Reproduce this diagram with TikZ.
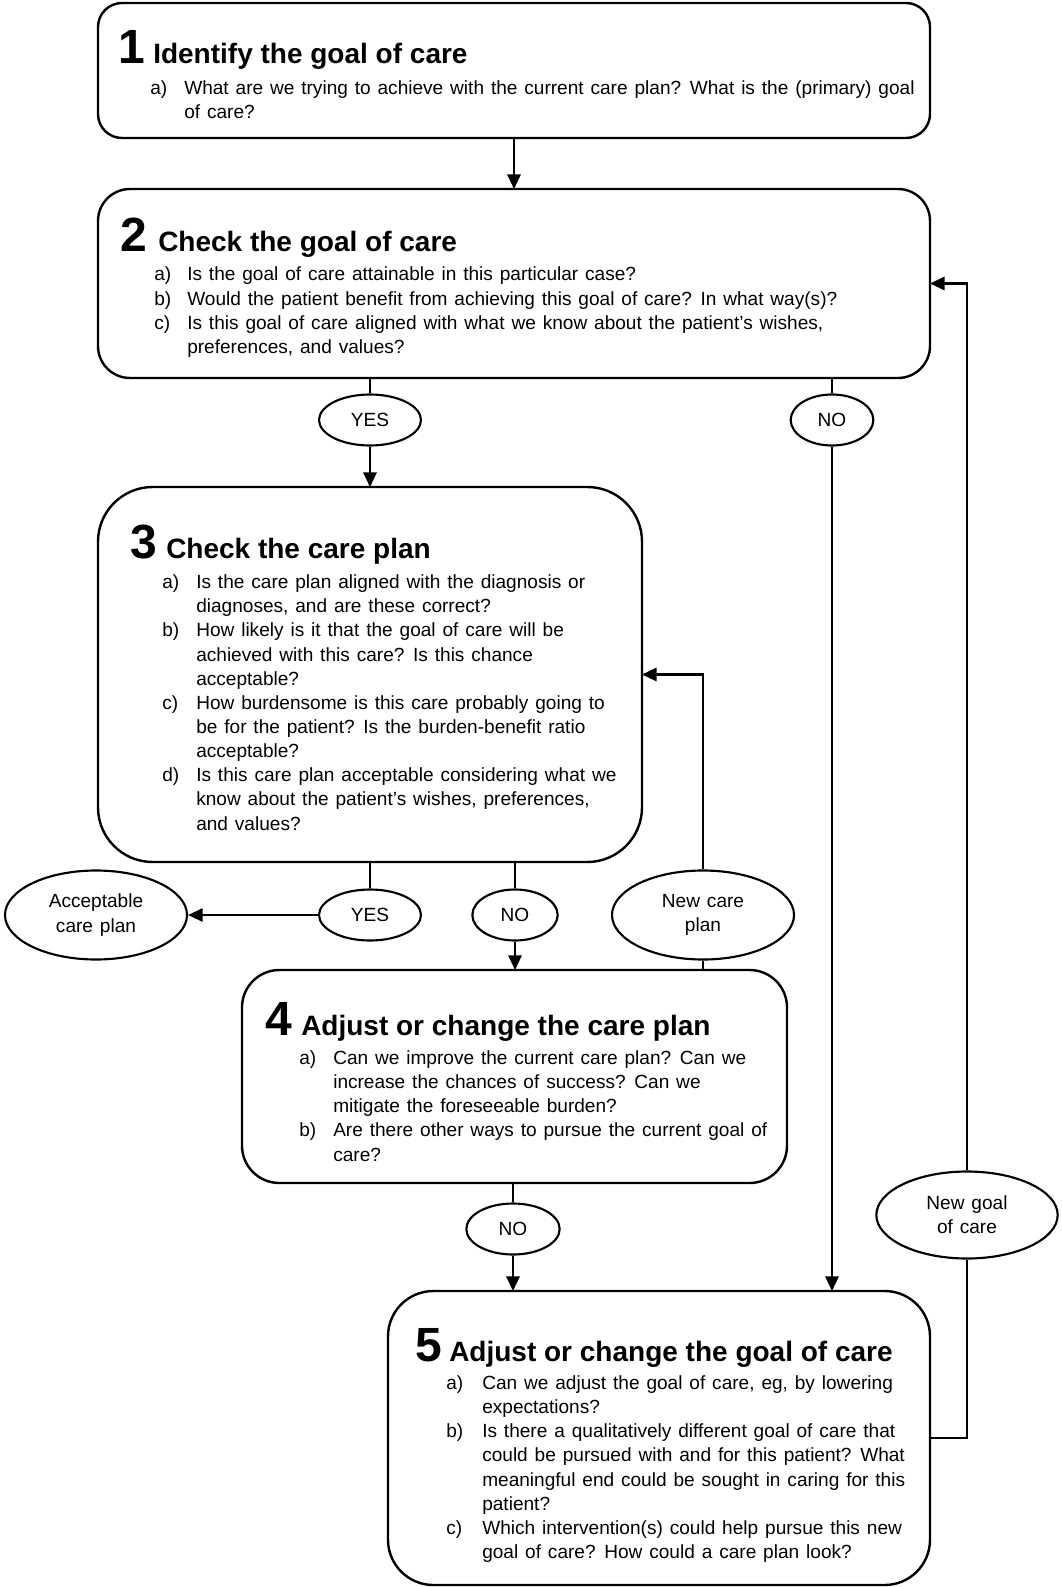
\documentclass[tikz,border=0pt]{standalone}
\usepackage{fontspec}
\setmainfont{Liberation Sans}[WordSpace=1.3]
\newfontfamily\titlefam{Liberation Sans}
\usepackage{array}
\usetikzlibrary{arrows.meta,shapes.geometric}
\newcommand{\bodysize}{\fontsize{14.3pt}{18.1pt}\selectfont}
\newcommand{\titlesize}{\titlefam\fontsize{21pt}{25pt}\selectfont\bfseries}
\newcommand{\numsize}{\titlefam\fontsize{36pt}{40pt}\selectfont\bfseries}
\newcommand{\itemtab}[2]{\begin{tabular}[t]{@{}p{#1}@{}l@{}}#2\end{tabular}}
\begin{document}
\begin{tikzpicture}[x=0.75pt,y=-0.75pt,
  stepbox/.style={draw, line width=1.8pt, inner sep=0pt, outer sep=0pt},
  oval/.style={draw, ellipse, line width=1.6pt, inner sep=0pt, align=center, font=\bodysize},
  conn/.style={line width=1.6pt},
  arr/.style={conn, -{Triangle[length=11pt,width=10pt]}},
  num/.style={anchor=base west, inner sep=0pt, font=\numsize},
  ttl/.style={anchor=base west, inner sep=0pt, font=\titlesize},
  items/.style={anchor=base west, inner sep=0pt, font=\bodysize},
]
\fill[white] (0,0) rectangle (1061,1587);
\useasboundingbox (0,0) rectangle (1061,1587);

% boxes
\node[stepbox, rounded corners=18pt, minimum width=624pt, minimum height=101.25pt] (b1) at (514,70.5) {};
\node[stepbox, rounded corners=24pt, minimum width=624pt, minimum height=141.75pt] (b2) at (514,283.5) {};
\node[stepbox, rounded corners=41pt, minimum width=408pt, minimum height=281.25pt] (b3) at (370,674.5) {};
\node[stepbox, rounded corners=28pt, minimum width=408.75pt, minimum height=159.75pt] (b4) at (514.5,1076.5) {};
\node[stepbox, rounded corners=34pt, minimum width=406.5pt, minimum height=220.5pt] (b5) at (659,1438) {};

% ovals
\node[oval, minimum width=76.5pt, minimum height=38.25pt] (y2) at (370,420) {YES};
\node[oval, minimum width=62pt, minimum height=38.25pt] (n2) at (832,420) {NO};
\node[oval, minimum width=76.5pt, minimum height=38.25pt] (y3) at (370,915) {YES};
\node[oval, minimum width=64pt, minimum height=38.25pt] (n3) at (515,915) {NO};
\node[oval, minimum width=136.5pt, minimum height=66.75pt] (acp) at (96,915) {Acceptable\\care plan};
\node[oval, minimum width=136.5pt, minimum height=66.75pt] (ncp) at (703,915) {New care\\plan};
\node[oval, minimum width=70pt, minimum height=38.25pt] (n4) at (513,1229) {NO};
\node[oval, minimum width=136pt, minimum height=65.25pt] (ngc) at (967,1215) {New goal\\of care};

% box 1 text
\node[num] (t1n) at (118,64) {1};
\node[ttl] (t1) at (153,64) {Identify the goal of care};
\node[items] (i1) at (150,94.7) {\itemtab{25.5pt}{a) & What are we trying to achieve with the current care plan? What is the (primary) goal\\ & of care?}};

% box 2 text
\node[num] (t2n) at (120,252) {2};
\node[ttl] (t2) at (158,252) {Check the goal of care};
\node[items] (i2) at (154,281) {\itemtab{24.75pt}{a) & Is the goal of care attainable in this particular case?\\
b) & Would the patient benefit from achieving this goal of care? In what way(s)?\\
c) & Is this goal of care aligned with what we know about the patient's wishes,\\
 & preferences, and values?}};

% box 3 text
\node[num] (t3n) at (130,558) {3};
\node[ttl] (t3) at (166,558) {Check the care plan};
\node[items] (i3) at (162,588.7) {\itemtab{25.5pt}{a) & Is the care plan aligned with the diagnosis or\\
 & diagnoses, and are these correct?\\
b) & How likely is it that the goal of care will be\\
 & achieved with this care? Is this chance\\
 & acceptable?\\
c) & How burdensome is this care probably going to\\
 & be for the patient? Is the burden-benefit ratio\\
 & acceptable?\\
d) & Is this care plan acceptable considering what we\\
 & know about the patient's wishes, preferences,\\
 & and values?}};

% box 4 text
\node[num] (t4n) at (265,1035) {4};
\node[ttl] (t4) at (301,1035) {Adjust or change the care plan};
\node[items] (i4) at (299,1064.5) {\itemtab{25.5pt}{a) & Can we improve the current care plan? Can we\\
 & increase the chances of success? Can we\\
 & mitigate the foreseeable burden?\\
b) & Are there other ways to pursue the current goal of\\
 & care?}};

% box 5 text
\node[num] (t5n) at (415,1361) {5};
\node[ttl] (t5) at (449,1361) {Adjust or change the goal of care};
\node[items] (i5) at (446,1389.5) {\itemtab{27pt}{a) & Can we adjust the goal of care, eg, by lowering\\
 & expectations?\\
b) & Is there a qualitatively different goal of care that\\
 & could be pursued with and for this patient? What\\
 & meaningful end could be sought in caring for this\\
 & patient?\\
c) & Which intervention(s) could help pursue this new\\
 & goal of care? How could a care plan look?}};

% connectors
\draw[arr] (b1.south) -- (b2.north);
\draw[conn] (y2 |- b2.south) -- (y2.north);
\draw[arr] (y2.south) -- (y2.south |- b3.north);
\draw[conn] (n2 |- b2.south) -- (n2.north);
\draw[arr] (n2.south) -- (n2.south |- b5.north);
\draw[conn] (y3 |- b3.south) -- (y3.north);
\draw[arr] (y3.west) -- (acp.east);
\draw[conn] (n3 |- b3.south) -- (n3.north);
\draw[arr] (n3.south) -- (n3.south |- b4.north);
\draw[conn] (ncp.south) -- (ncp.south |- b4.north);
\draw[arr] (ncp.north) |- (b3.east);
\draw[conn] (n4 |- b4.south) -- (n4.north);
\draw[arr] (n4.south) -- (n4.south |- b5.north);
\draw[conn] (b5.east) -| (ngc.south);
\draw[arr] (ngc.north) |- (b2.east);
\end{tikzpicture}
\end{document}
